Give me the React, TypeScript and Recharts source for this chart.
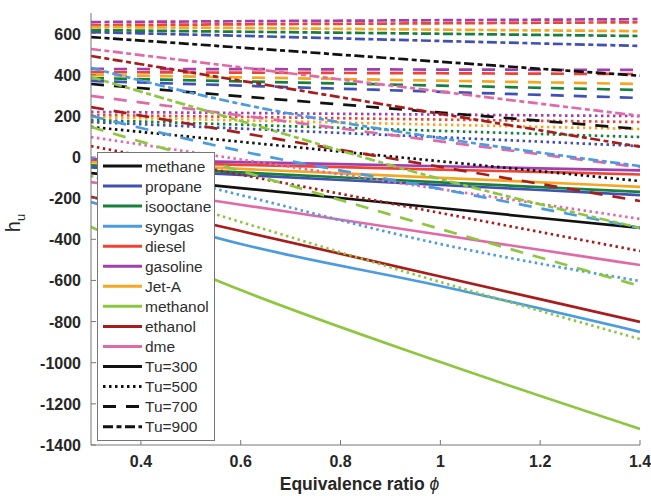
import React from "react";
import { LineChart, Line, XAxis, YAxis, Legend } from "recharts";

const PHI = [0.3, 0.6, 1.0, 1.4];
const TU = [300, 500, 700, 900];
const X_TICKS = [0.4, 0.6, 0.8, 1, 1.2, 1.4];
const Y_TICKS = [-1400, -1200, -1000, -800, -600, -400, -200, 0, 200, 400, 600];

// h_u per fuel: one row per Tu (300, 500, 700, 900), values at PHI
const methane = [
  [-78, -151, -248, -345],
  [146, 74, -21, -117],
  [355, 295, 216, 136],
  [583, 532, 463, 395],
];
const propane = [
  [-50, -87, -136, -185],
  [170, 138, 96, 53],
  [370, 347, 317, 287],
  [607, 589, 564, 540],
];
const isooctane = [
  [-40, -75, -123, -170],
  [180, 157, 127, 97],
  [384, 368, 347, 326],
  [617, 609, 599, 588],
];
const syngas = [
  [-219, -423, -627, -850],
  [-5, -185, -423, -603],
  [200, 29, -155, -345],
  [433, 258, 92, -44],
];
const diesel = [
  [-20, -38, -61, -85],
  [204, 195, 182, 170],
  [413, 410, 407, 403],
  [641, 645, 650, 655],
];
const gasoline = [
  [-10, -25, -45, -65],
  [219, 214, 206, 199],
  [428, 427, 425, 423],
  [656, 660, 665, 670],
];
const jetA = [
  [-25, -58, -101, -145],
  [194, 178, 157, 136],
  [399, 387, 371, 355],
  [632, 627, 619, 612],
];
const methanol = [
  [-340, -647, -997, -1322],
  [-92, -316, -608, -885],
  [146, -68, -350, -627],
  [389, 175, -107, -345],
];
const ethanol = [
  [-194, -360, -581, -802],
  [53, -86, -272, -457],
  [243, 118, -48, -214],
  [491, 371, 210, 50],
];
const dme = [
  [-122, -232, -378, -525],
  [97, -12, -156, -301],
  [297, 202, 76, -50],
  [525, 436, 318, 200],
];

const FUELS = [
  { key: "methane", label: "methane", color: "#111111", values: methane },
  { key: "propane", label: "propane", color: "#4150b4", values: propane },
  { key: "isooctane", label: "isooctane", color: "#17803d", values: isooctane },
  { key: "syngas", label: "syngas", color: "#4b9be0", values: syngas },
  { key: "diesel", label: "diesel", color: "#ee4433", values: diesel },
  { key: "gasoline", label: "gasoline", color: "#a23fb0", values: gasoline },
  { key: "jetA", label: "Jet-A", color: "#f5a623", values: jetA },
  { key: "methanol", label: "methanol", color: "#8dc63f", values: methanol },
  { key: "ethanol", label: "ethanol", color: "#a81c1c", values: ethanol },
  { key: "dme", label: "dme", color: "#e06aa8", values: dme },
];

const DASH: Record<number, string | undefined> = {
  300: undefined,
  500: "2.5 3.5",
  700: "13 10",
  900: "10 3.5 5 3.5",
};

const FONT = "'Liberation Sans', Arial, sans-serif";
const FRAME = "#777";

const rows = PHI.map((phi, i) => {
  const row: Record<string, number> = { phi };
  FUELS.forEach((f) => {
    TU.forEach((t, j) => {
      row[`${f.key}_${t}`] = f.values[j][i];
    });
  });
  return row;
});

function BottomTick({ x, y, payload }: any) {
  return (
    <g>
      <line x1={x} y1={y} x2={x} y2={y - 5} stroke={FRAME} />
      <text x={x} y={y + 22} textAnchor="middle" fontSize={16} fontWeight="bold" fill="#262626" fontFamily={FONT}>
        {payload.value}
      </text>
    </g>
  );
}

function TopTick({ x, y }: any) {
  return <line x1={x} y1={y} x2={x} y2={y + 5} stroke={FRAME} />;
}

function LeftTick({ x, y, payload }: any) {
  return (
    <g>
      <line x1={x} y1={y} x2={x + 5} y2={y} stroke={FRAME} />
      <text x={x - 10} y={y + 6} textAnchor="end" fontSize={16} fontWeight="bold" fill="#262626" fontFamily={FONT}>
        {payload.value}
      </text>
    </g>
  );
}

function RightTick({ x, y }: any) {
  return <line x1={x} y1={y} x2={x - 5} y2={y} stroke={FRAME} />;
}

function XTitle({ viewBox }: any) {
  const cx = viewBox.x + viewBox.width / 2 - 6;
  return (
    <text x={cx} y={viewBox.y + 45} textAnchor="middle" fontSize={17.5} fontWeight="bold" fill="#262626" fontFamily={FONT}>
      Equivalence ratio <tspan fontStyle="italic" fontWeight="normal">ϕ</tspan>
    </text>
  );
}

function YTitle({ viewBox }: any) {
  const cy = viewBox.y + viewBox.height / 2 - 6;
  const cx = 20;
  return (
    <text x={cx} y={cy} transform={`rotate(-90 ${cx} ${cy})`} textAnchor="middle" fontSize={20} fill="#262626" fontFamily={FONT}>
      h<tspan dy={5} fontSize={13}>u</tspan>
    </text>
  );
}

function LegendBox() {
  const entries = [
    ...FUELS.map((f) => ({ label: f.label, color: f.color, dash: undefined as string | undefined })),
    ...TU.map((t) => ({ label: `Tu=${t}`, color: "#111111", dash: DASH[t] })),
  ];
  return (
    <svg width={118} height={289} style={{ display: "block" }}>
      <rect x={0.5} y={0.5} width={117} height={288} fill="#fff" stroke={FRAME} />
      {entries.map((e, i) => {
        const cy = 14 + i * 20.05;
        return (
          <g key={e.label}>
            <line x1={6} y1={cy} x2={45} y2={cy} stroke={e.color} strokeWidth={3} strokeDasharray={e.dash} />
            <text x={48} y={cy + 5.5} fontSize={15.5} fill="#2e2e2e" fontFamily={FONT}>
              {e.label}
            </text>
          </g>
        );
      })}
    </svg>
  );
}

export default function App() {
  return (
    <div style={{ position: "absolute", left: 0, top: 0, width: 651, height: 496, background: "#fff" }}>
      <LineChart width={651} height={496} data={rows} margin={{ top: 13, right: 11, bottom: 0, left: 0 }}>
        <XAxis
          dataKey="phi"
          type="number"
          domain={[0.3, 1.4]}
          ticks={X_TICKS}
          height={51}
          tickSize={0}
          tickMargin={0}
          axisLine={{ stroke: FRAME }}
          tickLine={false}
          tick={<BottomTick />}
          interval={0}
          allowDataOverflow
          label={{ content: <XTitle /> }}
        />
        <XAxis
          xAxisId="top"
          orientation="top"
          dataKey="phi"
          type="number"
          domain={[0.3, 1.4]}
          ticks={X_TICKS}
          height={0}
          tickSize={0}
          tickMargin={0}
          axisLine={{ stroke: FRAME }}
          tickLine={false}
          tick={<TopTick />}
          interval={0}
          allowDataOverflow
        />
        <YAxis
          type="number"
          domain={[-1400, 700]}
          ticks={Y_TICKS}
          width={91}
          tickSize={0}
          tickMargin={0}
          axisLine={{ stroke: FRAME }}
          tickLine={false}
          tick={<LeftTick />}
          interval={0}
          allowDataOverflow
          label={{ content: <YTitle /> }}
        />
        <YAxis
          yAxisId="right"
          orientation="right"
          type="number"
          domain={[-1400, 700]}
          ticks={Y_TICKS}
          width={0}
          tickSize={0}
          tickMargin={0}
          axisLine={{ stroke: FRAME }}
          tickLine={false}
          tick={<RightTick />}
          interval={0}
          allowDataOverflow
        />
        {TU.map((t) =>
          FUELS.map((f) => (
            <Line
              key={`${f.key}_${t}`}
              dataKey={`${f.key}_${t}`}
              type="monotone"
              stroke={f.color}
              strokeWidth={2.7}
              strokeDasharray={DASH[t]}
              dot={false}
              activeDot={false}
              isAnimationActive={false}
            />
          ))
        )}
        <Legend
          layout="vertical"
          align="center"
          verticalAlign="middle"
          wrapperStyle={{ left: 97, top: 152, width: 118, height: 289 }}
          content={() => <LegendBox />}
        />
      </LineChart>
    </div>
  );
}
